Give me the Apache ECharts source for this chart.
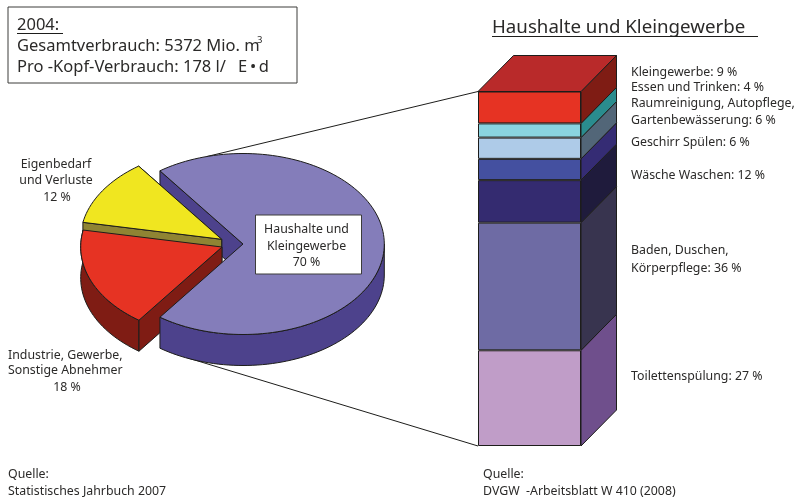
<!DOCTYPE html>
<html><head><meta charset="utf-8">
<style>html,body{margin:0;padding:0;background:#fff}#c{width:795px;height:497px}</style>
<script src="https://cdn.jsdelivr.net/npm/echarts@6/dist/echarts.min.js"></script>
</head><body><div id="c"></div>
<script>
// ---- data ----
const pieNames = ['Haushalte und Kleingewerbe', 'Eigenbedarf und Verluste', 'Industrie, Gewerbe, Sonstige Abnehmer'];
const pieValues = [70, 12, 18];
const useNames = ['Kleingewerbe', 'Essen und Trinken', 'Raumreinigung, Autopflege, Gartenbewässerung', 'Geschirr Spülen', 'Wäsche Waschen', 'Baden, Duschen, Körperpflege', 'Toilettenspülung'];
const useValues = [9, 4, 6, 6, 12, 36, 27];
const totalTitle = 'Haushalte und Kleingewerbe';
const infoYear = '2004:';
const infoTotal = 'Gesamtverbrauch: 5372 Mio. m';
const infoPerHead = 'Pro -Kopf-Verbrauch: 178 l/';
const infoUnit = 'E\u2009•\u2009d';
const sourceLeft = ['Quelle:', 'Statistisches Jahrbuch 2007'];
const sourceRight = ['Quelle:', 'DVGW  -Arbeitsblatt W 410 (2008)'];

// ---- styles ----
const FONT = '"Noto Sans", sans-serif';
const INK = '#1d1d1b', TXT = '#2b2a29';
const frontColors = ['#e63323', '#8ad4e0', '#aecbe8', '#4450a0', '#342b70', '#6e6ba4', '#c09dc8'];
const sideColors = ['#7f1c14', '#2a8c8e', '#526678', '#352c74', '#1f1b3c', '#38344f', '#6f4f8c'];
const topColor = '#b92a2a';
const pieTop = ['#847dba', '#f0e620', '#e63323'];
const pieWall = ['#4d428c', '#8f8433', '#7f1c14'];
const depthX = 35.5, depthY = 36, pieDepth = 31;
const offsets = [[0, 0], [-21.3, -4.7], [-21, 3]];
const START_DEG = 234;

// bars are stacked bottom-up
const stackNames = useNames.slice().reverse();
const stackValues = useValues.slice().reverse();
const stackFront = frontColors.slice().reverse();
const stackSide = sideColors.slice().reverse();
const cum = []; stackValues.reduce((a, v, i) => (cum[i] = [a, a + v], a + v), 0);

function renderPie(params, api) {
  const total = pieValues.reduce((a, b) => a + b, 0);
  const ang = []; let a = START_DEG;
  pieValues.forEach((v, i) => { const s = a; a += v / total * 360; ang[i] = [s, a]; });
  const P = (deg, i, drop) => {
    const r = deg * Math.PI / 180;
    const c = api.coord([Math.cos(r), Math.sin(r)]);
    return [c[0] + offsets[i][0], c[1] + offsets[i][1] + (drop || 0)];
  };
  const C = (i, drop) => {
    const c = api.coord([0, 0]);
    return [c[0] + offsets[i][0], c[1] + offsets[i][1] + (drop || 0)];
  };
  const arc = (from, to, i, drop) => {
    const out = [], n = Math.max(2, Math.ceil(Math.abs(to - from) / 2));
    for (let k = 0; k <= n; k++) out.push(P(from + (to - from) * k / n, i, drop));
    return out;
  };
  const poly = (pts, fill) => ({ type: 'polygon', shape: { points: pts }, style: { fill, stroke: INK, lineWidth: 1, lineJoin: 'round' } });
  const top = i => poly([C(i)].concat(arc(ang[i][0], ang[i][1], i)), pieTop[i]);
  const radial = (deg, i, col) => poly([C(i), P(deg, i), P(deg, i, pieDepth), C(i, pieDepth)], col);
  const outer = (from, to, i) => poly(arc(from, to, i).concat(arc(to, from, i, pieDepth)), pieWall[i]);
  return {
    type: 'group',
    children: [
      radial(ang[0][1], 0, pieWall[0]),
      radial(ang[1][0], 1, pieWall[1]),
      radial(ang[1][1], 1, pieWall[1]),
      top(1),
      outer(ang[2][0] < 180 ? 180 : ang[2][0], ang[2][1], 2),
      radial(ang[2][1], 2, pieWall[2]),
      top(2),
      outer(ang[0][0], 360, 0),
      top(0)
    ]
  };
}

function renderSide(params, api) {
  const i = params.dataIndex;
  const a = api.coord([0, api.value(0)]), b = api.coord([0, api.value(1)]);
  const w = api.size([1, 0])[0];
  const x = a[0] + w / 2;
  const kids = [{
    type: 'polygon',
    shape: { points: [[x, a[1]], [x + depthX, a[1] - depthY], [x + depthX, b[1] - depthY], [x, b[1]]] },
    style: { fill: stackSide[i], stroke: INK, lineWidth: 1 }
  }];
  if (i === stackValues.length - 1) {
    kids.push({
      type: 'polygon',
      shape: { points: [[x - w, b[1]], [x - w + depthX, b[1] - depthY], [x + depthX, b[1] - depthY], [x, b[1]]] },
      style: { fill: topColor, stroke: INK, lineWidth: 1 }
    });
  }
  return { type: 'group', children: kids };
}

const txt = (x, y, text, size, align) => ({
  type: 'text', x, y: y + 1, silent: true, z: 20,
  style: { text, font: size + 'px ' + FONT, fill: TXT, textAlign: align || 'left', textVerticalAlign: 'middle' }
});
const line = (x1, y1, x2, y2, c, w, z) => ({ type: 'line', z: z === undefined ? 20 : z, silent: true, shape: { x1, y1, x2, y2 }, style: { stroke: c || INK, lineWidth: w || 1 } });

const pct = i => useNames[i] + ': ' + useValues[i] + ' %';
const fs = 12.35;
const graphics = [
  { type: 'rect', z: 19, silent: true, shape: { x: 8, y: 7, width: 289, height: 76 }, style: { fill: '#fff', stroke: '#3c3c3b', lineWidth: 1 } },
  txt(17, 24.5, infoYear, 16.5),
  line(17, 33.5, 63, 33.5, INK, 1),
  txt(17, 45.5, infoTotal, 16.5),
  txt(257, 39, '3', 9.5),
  txt(17, 66.5, infoPerHead, 16.5),
  txt(238, 66.5, infoUnit, 16.5),
  txt(492, 26.5, totalTitle, 18.7),
  line(492, 36.5, 758, 36.5, INK, 1),
  line(207, 156.5, 478, 91.5, INK, 1, 1),
  line(188, 358, 478, 446, INK, 1, 1),
  { type: 'rect', z: 19, silent: true, shape: { x: 255.5, y: 215, width: 106, height: 59 }, style: { fill: '#fff', stroke: '#3c3c3b', lineWidth: 1 } },
  txt(306.5, 228, 'Haushalte und', fs, 'center'),
  txt(306.5, 245, 'Kleingewerbe', fs, 'center'),
  txt(306.5, 261, pieValues[0] + ' %', fs, 'center'),
  txt(56, 163, 'Eigenbedarf', fs, 'center'),
  txt(56, 179, 'und Verluste', fs, 'center'),
  txt(57, 196, pieValues[1] + ' %', fs, 'center'),
  txt(8, 354, 'Industrie, Gewerbe,', fs),
  txt(8, 369, 'Sonstige Abnehmer', fs),
  txt(67, 386, pieValues[2] + ' %', fs, 'center'),
  txt(631, 71.5, pct(0), fs),
  txt(631, 86.5, pct(1), fs),
  txt(631, 102.5, 'Raumreinigung, Autopflege,', fs),
  txt(631, 119, 'Gartenbewässerung: ' + useValues[2] + ' %', fs),
  txt(631, 141, pct(3), fs),
  txt(631, 174, pct(4), fs),
  txt(631, 249.5, 'Baden, Duschen,', fs),
  txt(631, 267.5, 'Körperpflege: ' + useValues[5] + ' %', fs),
  txt(631, 375, pct(6), fs),
  txt(8, 473, sourceLeft[0], fs),
  txt(8, 490, sourceLeft[1], fs),
  txt(483, 473, sourceRight[0], fs),
  txt(483, 490, sourceRight[1], fs)
];

const hidden = { show: false };
const chart = echarts.init(document.getElementById('c'), null, { renderer: 'canvas' });
chart.setOption({
  animation: false,
  backgroundColor: '#fff',
  grid: [
    { left: 243 - 141.3, width: 282.6, top: 244 - 90.5, height: 181 },
    { left: 478, width: 103, top: 91.5, height: 354.5 }
  ],
  xAxis: [
    { gridIndex: 0, type: 'value', min: -1, max: 1, ...hidden },
    { gridIndex: 1, type: 'category', data: ['Haushalte'], ...hidden }
  ],
  yAxis: [
    { gridIndex: 0, type: 'value', min: -1, max: 1, ...hidden },
    { gridIndex: 1, type: 'value', min: 0, max: 100, ...hidden }
  ],
  series: [
    { type: 'custom', name: 'Pie', xAxisIndex: 0, yAxisIndex: 0, z: 3, silent: true, renderItem: renderPie, data: [[0, 0]], encode: { x: 0, y: 1 } },
    { type: 'custom', name: 'Sides', xAxisIndex: 1, yAxisIndex: 1, z: 2, silent: true, renderItem: renderSide, data: cum, encode: { y: [0, 1] } }
  ].concat(stackValues.map((v, i) => ({
    type: 'bar', name: stackNames[i], xAxisIndex: 1, yAxisIndex: 1, stack: 'use', barWidth: '100%', clip: false, z: 4, silent: true,
    data: [v], itemStyle: { color: stackFront[i], borderColor: INK, borderWidth: 1 }
  }))),
  graphic: { elements: graphics }
});
</script></body></html>
